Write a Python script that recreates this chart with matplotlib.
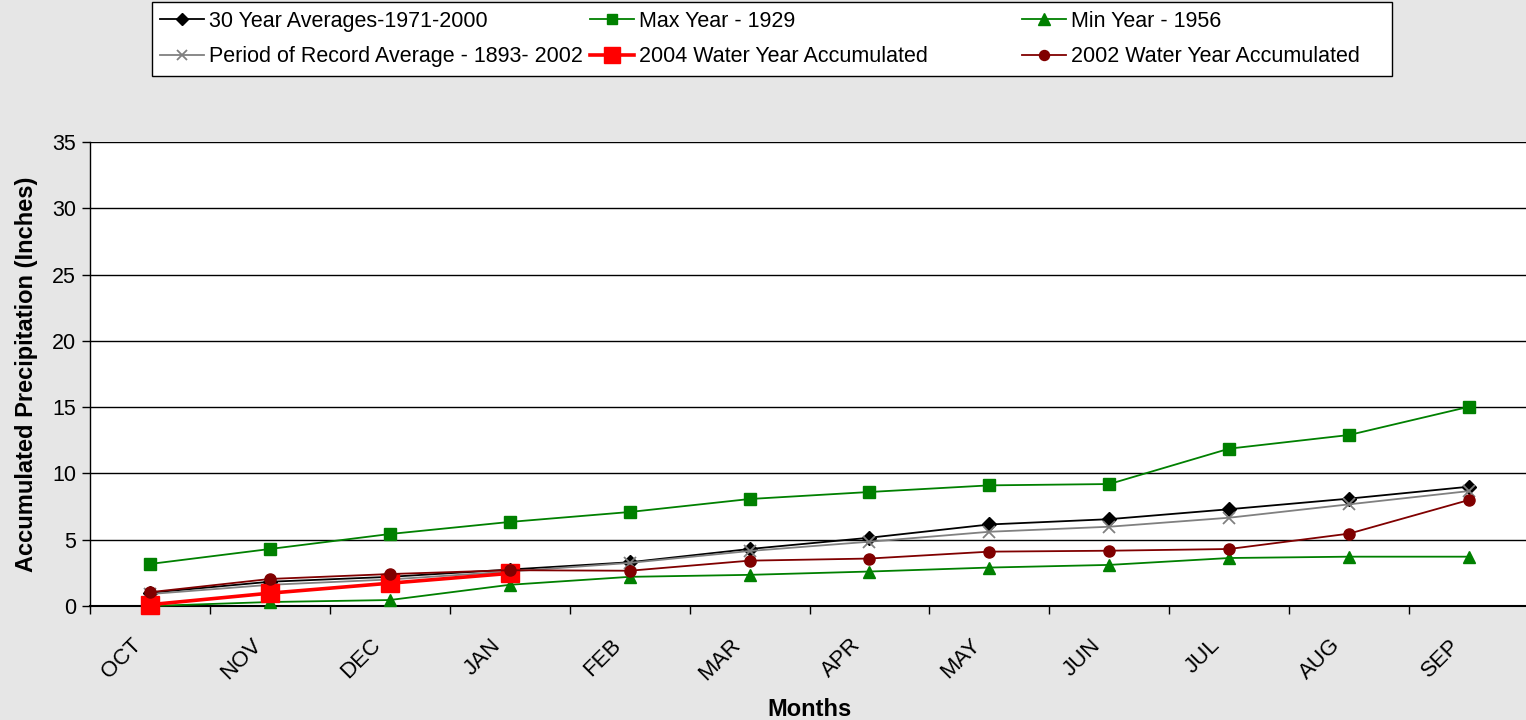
import matplotlib
matplotlib.use("Agg")
import matplotlib.pyplot as plt
from matplotlib.patches import Rectangle
from matplotlib.transforms import ScaledTranslation

plt.rcParams['font.family'] = ['Liberation Sans', 'DejaVu Sans']

months = ["OCT", "NOV", "DEC", "JAN", "FEB", "MAR", "APR", "MAY", "JUN", "JUL", "AUG", "SEP"]
avg_30yr = [1.0, 1.83, 2.2, 2.75, 3.3, 4.3, 5.15, 6.15, 6.55, 7.3, 8.1, 9.0]
max_1929 = [3.17, 4.3, 5.43, 6.34, 7.09, 8.07, 8.6, 9.1, 9.2, 11.87, 12.9, 15.03]
min_1956 = [0.0, 0.3, 0.45, 1.6, 2.2, 2.35, 2.6, 2.9, 3.1, 3.62, 3.72, 3.72]
por_avg = [0.9, 1.6, 2.0, 2.6, 3.25, 4.15, 4.85, 5.6, 5.98, 6.66, 7.67, 8.67]
wy_2004 = [0.1, 0.97, 1.72, 2.46]
wy_2002 = [1.04, 2.04, 2.41, 2.7, 2.66, 3.42, 3.58, 4.1, 4.17, 4.3, 5.46, 8.0]

W, H = 1526, 720
fig = plt.figure(figsize=(W / 100, H / 100), dpi=100)
fig.patch.set_facecolor('#e6e6e6')

ax = fig.add_axes([90 / W, 1 - 606 / H, (W - 90) / W + 0.002, (606 - 142) / H])
ax.set_facecolor('white')

x = list(range(len(months)))
kw = dict(clip_on=False)
ax.plot(x, avg_30yr, color='black', lw=1.3, marker='D', ms=7, label='30 Year Averages-1971-2000', zorder=3, **kw)
ax.plot(x, max_1929, color='#008000', lw=1.3, marker='s', ms=8, label='Max Year - 1929', zorder=3, **kw)
ax.plot(x, min_1956, color='#008000', lw=1.3, marker='^', ms=9, label='Min Year - 1956', zorder=3, **kw)
ax.plot(x, por_avg, color='#808080', lw=1.3, marker='x', ms=8, mew=1.3, label='Period of Record Average - 1893- 2002', zorder=3, **kw)
ax.plot(x[:len(wy_2004)], wy_2004, color='#ff0000', lw=2.6, marker='s', ms=13, label='2004 Water Year Accumulated', zorder=4, **kw)
ax.plot(x, wy_2002, color='#800000', lw=1.3, marker='o', ms=8, label='2002 Water Year Accumulated', zorder=5, **kw)

ax.set_ylim(0, 35)
ax.set_xlim(-0.5, 11.5)
ax.set_yticks(range(0, 36, 5))
ax.yaxis.grid(True, color='black', lw=1.0)
ax.set_axisbelow(True)
for s in ['top', 'right']:
    ax.spines[s].set_visible(False)
ax.spines['left'].set_linewidth(1.0)
ax.spines['bottom'].set_linewidth(1.5)

ax.set_xticks(x)
ax.set_xticklabels(months, rotation=45, ha='right', va='center', rotation_mode='anchor')
ax.tick_params(axis='x', which='major', length=0, pad=26, labelsize=16)
offset = ScaledTranslation(-12 / 100, 0, fig.dpi_scale_trans)
for lab in ax.get_xticklabels():
    lab.set_transform(lab.get_transform() + offset)
ax.set_xticks([i - 0.5 for i in range(13)], minor=True)
ax.tick_params(axis='x', which='minor', length=6, width=1, direction='out')
ax.tick_params(axis='y', length=6, width=1, direction='out', labelsize=15.5, pad=4)

ax.set_xlabel('Months', fontsize=17, fontweight='bold')
ax.xaxis.set_label_coords((808 - 90) / (W - 90), (606 - 698) / 464)
ax.set_ylabel('Accumulated Precipitation (Inches)', fontsize=17, fontweight='bold')
ax.yaxis.set_label_coords((38 - 90) / (W - 90), 0.5)

# legend frame
fig.add_artist(Rectangle((152 / W, 1 - 76 / H), (1392 - 152) / W, 74 / H,
                         transform=fig.transFigure, facecolor='white', edgecolor='black', lw=1.0, zorder=1))
handles, labels = ax.get_legend_handles_labels()
cols = [(0, 3), (1, 4), (2, 5)]
xs = [160, 590, 1022]
for (a, b), xp in zip(cols, xs):
    leg = fig.legend([handles[a], handles[b]], [labels[a], labels[b]], loc='upper left',
                     bbox_to_anchor=(xp / W, 1 - 11 / H), frameon=False, fontsize=15.5,
                     handlelength=2.05, handletextpad=0.22, labelspacing=0.66, borderpad=0,
                     borderaxespad=0, markerscale=0.9)
    leg.set_zorder(2)

fig.savefig('out.png', dpi=100, facecolor=fig.get_facecolor())
